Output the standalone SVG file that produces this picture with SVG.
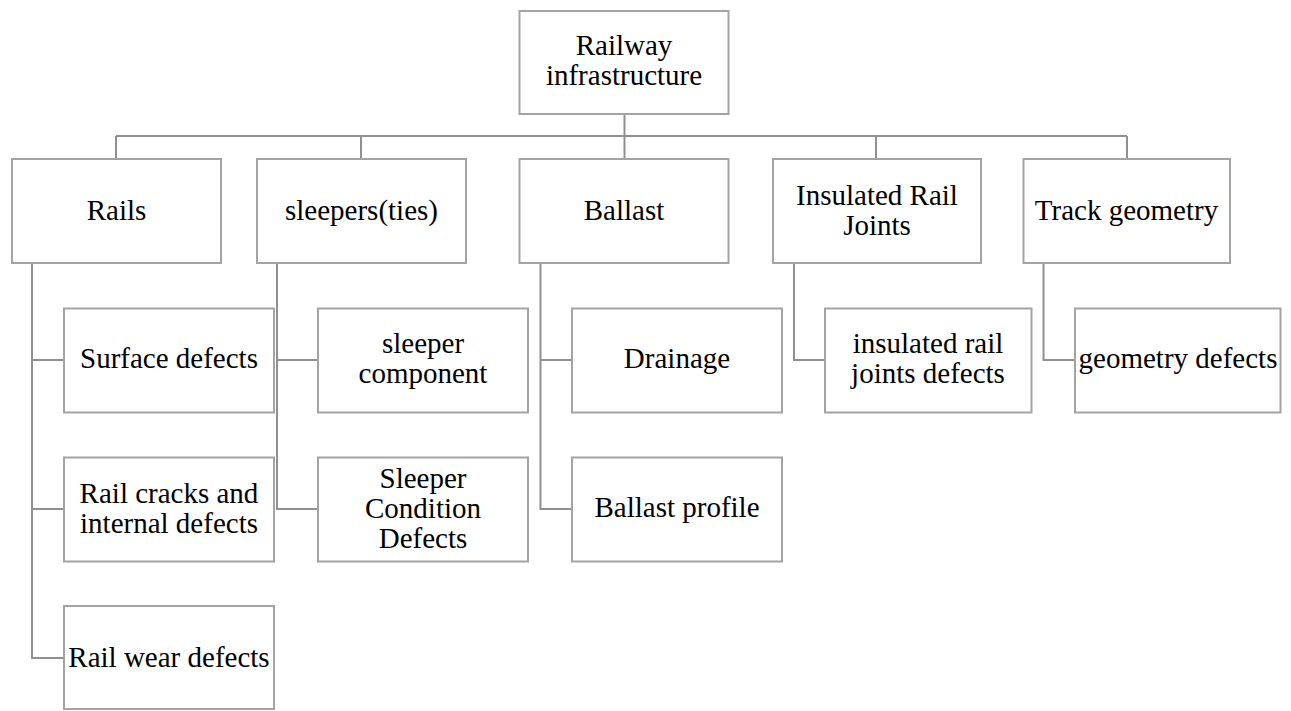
<svg xmlns="http://www.w3.org/2000/svg" width="1291" height="711" viewBox="0 0 1291 711">
  <style>
    .box { fill: #ffffff; stroke: #a3a3a3; stroke-width: 2; }
    .link { fill: none; stroke: #909090; stroke-width: 2; }
    .nodetext { font-family: "Liberation Serif", serif; font-size: 29px; fill: #000000; text-anchor: middle; }
  </style>
  <rect width="1291" height="711" fill="#ffffff"/>

  <!-- tree connectors -->
  <g id="connectors">
    <path class="link" d="M624.5 114 V136 M116 136 H1127 M116 136 V159 M361 136 V159 M624.5 136 V159 M876 136 V159 M1127 136 V159"/>
    <path class="link" d="M32 263 V658 H64 M32 360 H64 M32 509 H64"/>
    <path class="link" d="M277 263 V509 H318 M277 360 H318"/>
    <path class="link" d="M540.5 263 V509 H572 M540.5 360 H572"/>
    <path class="link" d="M794 263 V360 H825"/>
    <path class="link" d="M1043.5 263 V360 H1075"/>
  </g>

  <g id="nodes">
    <!-- root -->
    <g id="railway-infrastructure">
      <rect class="box" x="519.5" y="11" width="209" height="103"/>
      <text class="nodetext" x="624" y="54.5">Railway</text>
      <text class="nodetext" x="624" y="85">infrastructure</text>
    </g>

    <!-- first level -->
    <g id="rails">
      <rect class="box" x="12" y="159" width="209" height="104"/>
      <text class="nodetext" x="116.5" y="220">Rails</text>
    </g>
    <g id="sleepers">
      <rect class="box" x="257" y="159" width="209" height="104"/>
      <text class="nodetext" x="361.5" y="220">sleepers(ties)</text>
    </g>
    <g id="ballast">
      <rect class="box" x="519.5" y="159" width="209" height="104"/>
      <text class="nodetext" x="624" y="220">Ballast</text>
    </g>
    <g id="insulated-rail-joints">
      <rect class="box" x="773" y="159" width="208" height="104"/>
      <text class="nodetext" x="877" y="205">Insulated Rail</text>
      <text class="nodetext" x="877" y="234.5">Joints</text>
    </g>
    <g id="track-geometry">
      <rect class="box" x="1023.5" y="159" width="206.5" height="104"/>
      <text class="nodetext" x="1126.5" y="220">Track geometry</text>
    </g>

    <!-- rails children -->
    <g id="surface-defects">
      <rect class="box" x="64" y="308.5" width="210" height="104"/>
      <text class="nodetext" x="169" y="368.3">Surface defects</text>
    </g>
    <g id="rail-cracks">
      <rect class="box" x="64" y="457.5" width="210" height="104"/>
      <text class="nodetext" x="169" y="503.3">Rail cracks and</text>
      <text class="nodetext" x="169" y="532.5">internal defects</text>
    </g>
    <g id="rail-wear">
      <rect class="box" x="64" y="606" width="210" height="103"/>
      <text class="nodetext" x="169" y="666.7">Rail wear defects</text>
    </g>

    <!-- sleepers children -->
    <g id="sleeper-component">
      <rect class="box" x="318" y="308.5" width="210" height="104"/>
      <text class="nodetext" x="423" y="353.3">sleeper</text>
      <text class="nodetext" x="423" y="382.7">component</text>
    </g>
    <g id="sleeper-condition">
      <rect class="box" x="318" y="457.5" width="210" height="104"/>
      <text class="nodetext" x="423" y="488.3">Sleeper</text>
      <text class="nodetext" x="423" y="518">Condition</text>
      <text class="nodetext" x="423" y="548.3">Defects</text>
    </g>

    <!-- ballast children -->
    <g id="drainage">
      <rect class="box" x="572" y="308.5" width="210" height="104"/>
      <text class="nodetext" x="677" y="368.3">Drainage</text>
    </g>
    <g id="ballast-profile">
      <rect class="box" x="572" y="457.5" width="210" height="104"/>
      <text class="nodetext" x="677" y="516.7">Ballast profile</text>
    </g>

    <!-- insulated rail joints child -->
    <g id="insulated-rail-joints-defects">
      <rect class="box" x="825" y="308.5" width="206.5" height="104"/>
      <text class="nodetext" x="928" y="353.3">insulated rail</text>
      <text class="nodetext" x="928" y="383">joints defects</text>
    </g>

    <!-- track geometry child -->
    <g id="geometry-defects">
      <rect class="box" x="1075" y="308.5" width="205.5" height="104"/>
      <text class="nodetext" x="1178" y="368.3">geometry defects</text>
    </g>
  </g>
</svg>
